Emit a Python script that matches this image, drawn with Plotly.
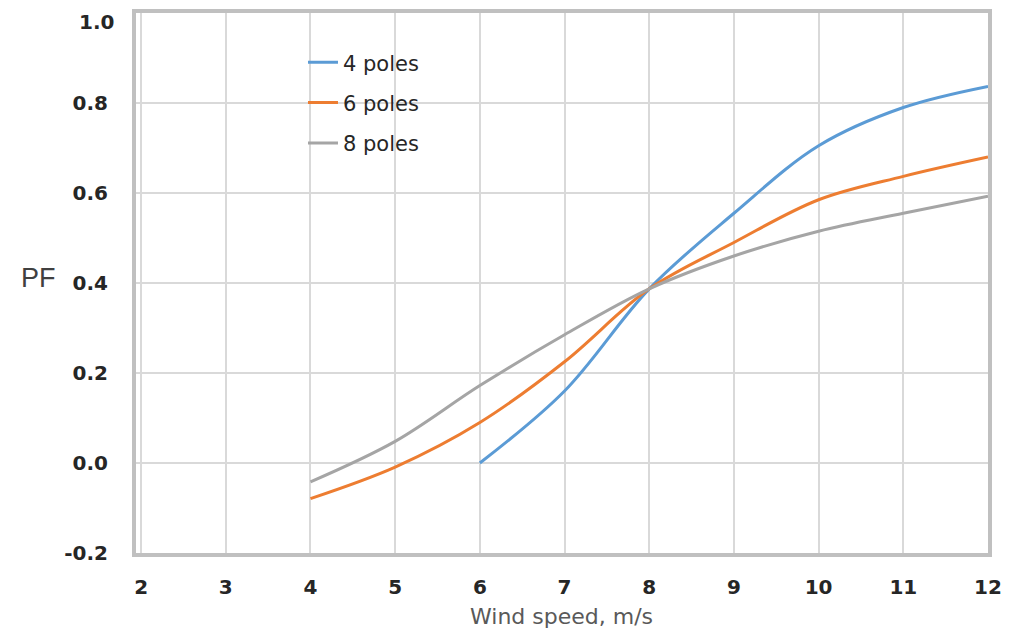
import plotly.graph_objects as go

# Data
wind_4 = [6, 7, 8, 9, 10, 11, 12]
pf_4 = [0.0, 0.16, 0.387, 0.555, 0.705, 0.79, 0.837]

wind_6 = [4, 5, 6, 7, 8, 9, 10, 11, 12]
pf_6 = [-0.079, -0.009, 0.09, 0.225, 0.387, 0.49, 0.585, 0.637, 0.68]

wind_8 = [4, 5, 6, 7, 8, 9, 10, 11, 12]
pf_8 = [-0.042, 0.048, 0.172, 0.285, 0.387, 0.46, 0.515, 0.555, 0.593]

series_names = ["4 poles", "6 poles", "8 poles"]
series_colors = ["#5B9BD5", "#ED7D31", "#A5A5A5"]

x_ticks = [2, 3, 4, 5, 6, 7, 8, 9, 10, 11, 12]
x_ticktext = ["2", "3", "4", "5", "6", "7", "8", "9", "10", "11", "12"]
y_ticks = [-0.2, 0.0, 0.2, 0.4, 0.6, 0.8, 1.0]
y_ticktext = ["-0.2", "0.0", "0.2", "0.4", "0.6", "0.8", "1.0"]

fig = go.Figure()
for xs, ys, name, color in zip([wind_4, wind_6, wind_8], [pf_4, pf_6, pf_8],
                               series_names, series_colors):
    fig.add_trace(go.Scatter(
        x=xs, y=ys, name=name, mode="lines",
        line=dict(color=color, width=3, shape="spline", smoothing=1.0),
        legendgroup=name,
    ))

tick_font = dict(family="DejaVu Sans", size=20, color="#262626", weight="bold")

# The top tick label sits slightly below its gridline in the reference;
# draw it as an annotation so it is not clipped at the top edge.
axis_ticktext = y_ticktext[:-1] + [""]

fig.update_layout(
    width=995, height=624,
    margin=dict(l=128, r=15, t=5, b=79),
    paper_bgcolor="white", plot_bgcolor="white",
    showlegend=True,
    legend=dict(
        x=0.196, y=0.946, xanchor="left", yanchor="top",
        bgcolor="rgba(0,0,0,0)",
        font=dict(family="DejaVu Sans", size=21, color="#262626"),
        tracegroupgap=10,
    ),
    xaxis=dict(
        range=[1.94, 12.0], automargin=False,
        tickmode="array", tickvals=x_ticks, ticktext=x_ticktext,
        tickfont=tick_font,
        showgrid=True, gridcolor="#D9D9D9", gridwidth=1.5,
        zeroline=False,
        showline=True, linecolor="#C0C0C0", linewidth=4, mirror=True,
        ticks="", ticklabelstandoff=13,
    ),
    yaxis=dict(
        range=[-0.2, 1.0], automargin=False,
        tickmode="array", tickvals=y_ticks, ticktext=axis_ticktext,
        tickfont=tick_font,
        showgrid=True, gridcolor="#D9D9D9", gridwidth=1.5,
        zeroline=False,
        showline=True, linecolor="#C0C0C0", linewidth=4, mirror=True,
        ticks="", ticklabelstandoff=20,
    ),
    annotations=[
        dict(text=y_ticktext[-1], xref="paper", yref="y", x=0, y=y_ticks[-1],
             xanchor="right", yanchor="middle", xshift=-20, yshift=-9,
             showarrow=False, font=tick_font),
        dict(text="PF", xref="paper", yref="paper", x=-0.137, y=0.509,
             xanchor="left", yanchor="middle", showarrow=False,
             font=dict(family="Liberation Sans", size=27, color="#404040")),
        dict(text="Wind speed, m/s", xref="paper", yref="paper", x=0.499, y=-0.118,
             xanchor="center", yanchor="middle", showarrow=False,
             font=dict(family="DejaVu Sans", size=22, color="#595959")),
    ],
)

fig.write_html("out.html")
